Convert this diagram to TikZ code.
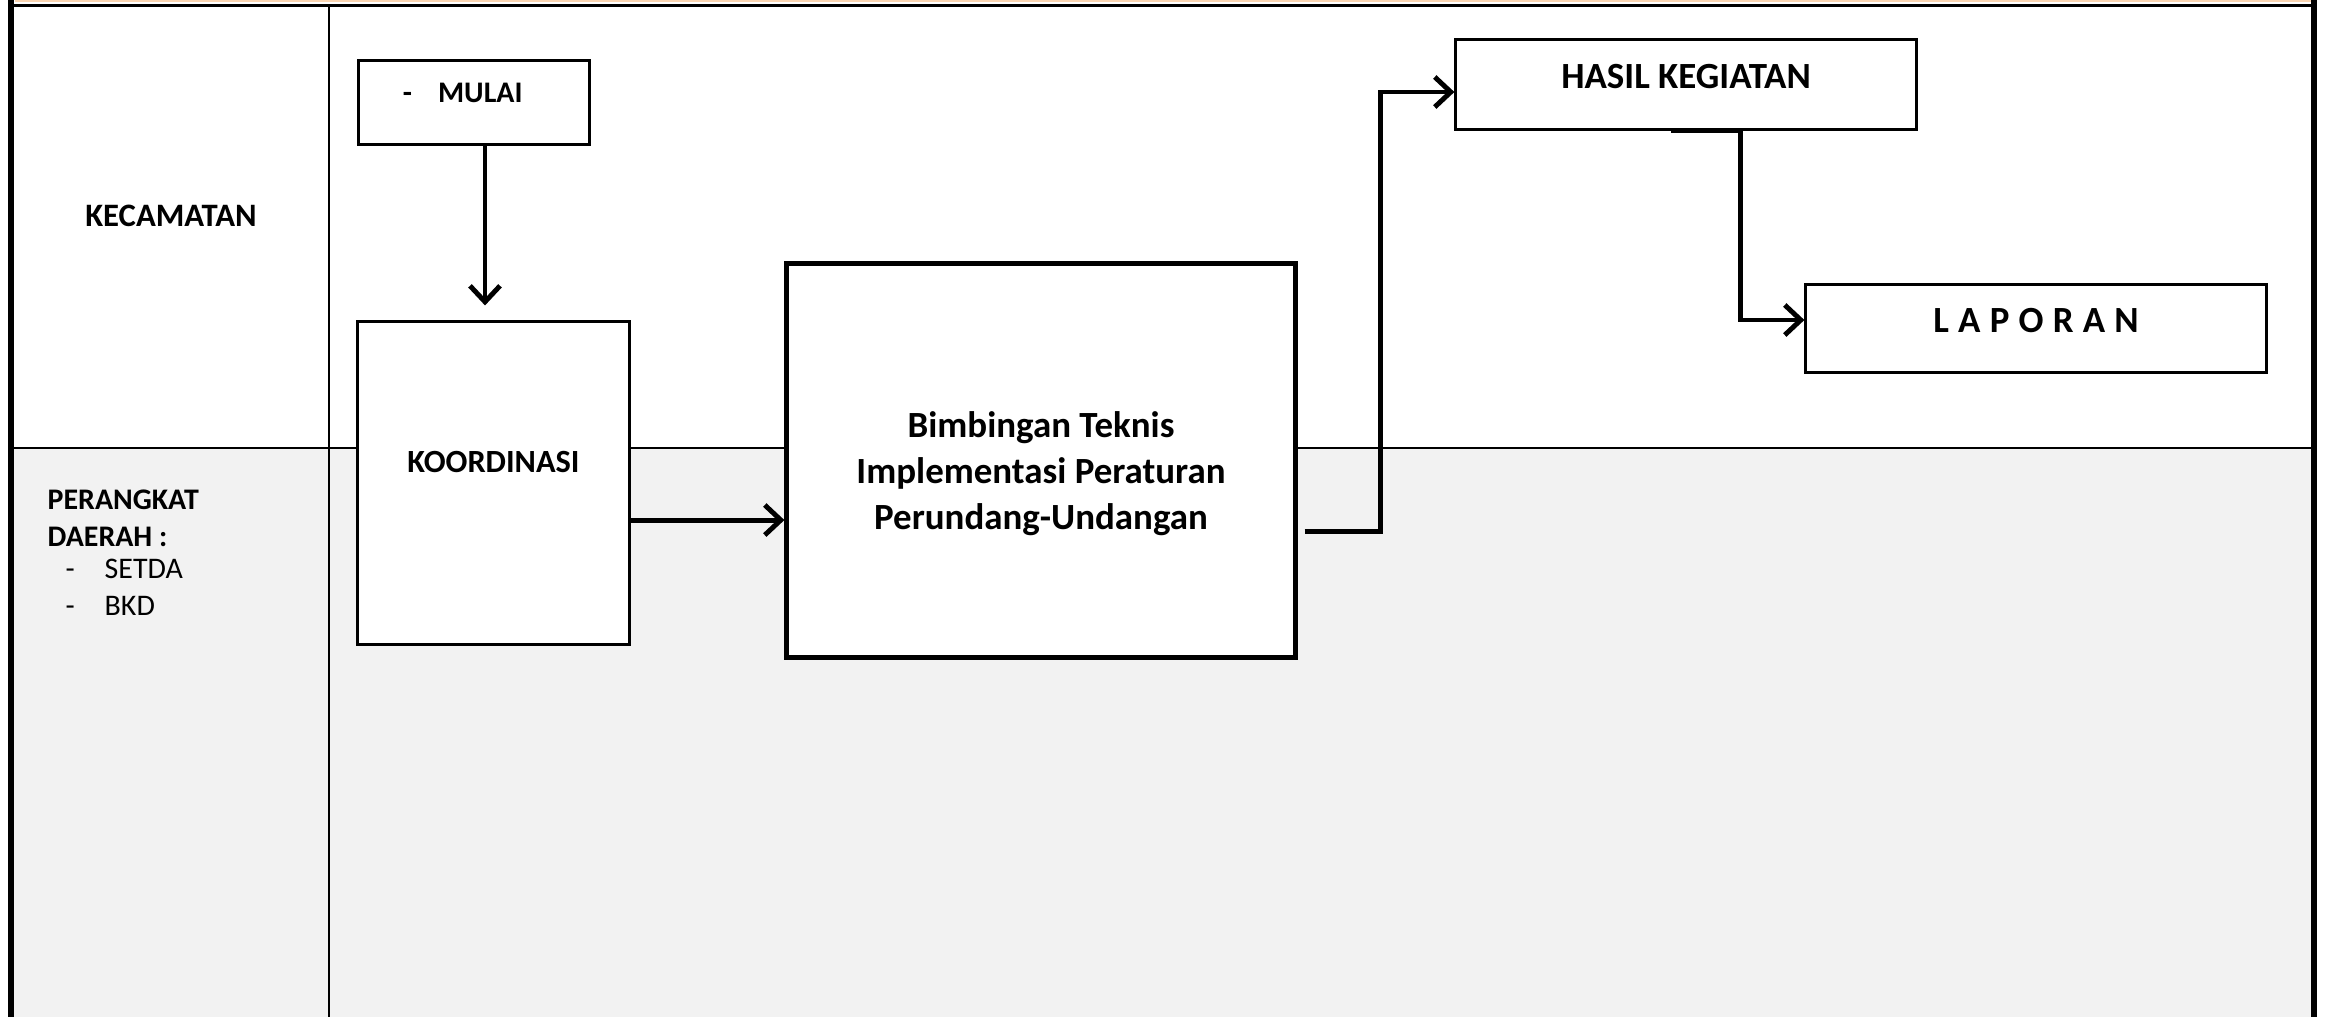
\documentclass[tikz,border=0pt]{standalone}
\usepackage{fontspec}
\setmainfont{Carlito}
\usetikzlibrary{arrows.meta}

\definecolor{peach}{RGB}{250,213,178}
\definecolor{lanegray}{RGB}{242,242,242}

\tikzset{
  box/.style={draw, fill=white, line width=0.85pt, inner sep=0pt},
  arr/.style={line width=1.4pt, -{Straight Barb[length=0.16cm,width=0.3cm]}},
  grid/.style={line width=0.6pt},
  small/.style={font=\fontsize{8.5}{10.5}\selectfont},
  big/.style={font=\bfseries\fontsize{10.5}{13}\selectfont},
}

\begin{document}
\begin{tikzpicture}[x=0.01cm, y=-0.01cm]
  \useasboundingbox (0,0) rectangle (2325,1017);

  % lanes and frame
  \fill[lanegray] (14,448) rectangle (2311,1017);
  \fill[peach] (15,0) rectangle (2311,2);
  \draw[line width=0.7pt] (14,5.5) -- (2311,5.5);
  \draw[line width=1.7pt] (11,0) -- (11,1017);
  \draw[line width=1.7pt] (2314,0) -- (2314,1017);
  \draw[grid] (329,5.5) -- (329,1017);
  \draw[grid] (14,448) -- (2311,448);

  % lane labels
  \node[font=\bfseries\fontsize{9.3}{11}\selectfont] (kec) at (171,216) {KECAMATAN};
  \node[small, anchor=north west, align=left, inner sep=0pt] (pd) at (47,489)
    {\textbf{PERANGKAT}\\ \textbf{DAERAH :}\\[-0.045cm]
     \hspace*{0.18cm}\makebox[0.39cm][l]{-}SETDA\\
     \hspace*{0.18cm}\makebox[0.39cm][l]{-}BKD};

  % boxes
  \node[box, font=\bfseries\fontsize{8.5}{10.5}\selectfont, text width=2.3cm, align=left,
        text height=0.415cm, text depth=0.415cm] (mulai) at (474,102.5)
    {\hspace*{0.44cm}-\hspace{0.26cm}MULAI};
  \node[box, font=\bfseries\fontsize{9.2}{11}\selectfont, text width=2.71cm, align=center,
        text height=1.505cm, text depth=1.715cm] (koord) at (493.5,483) {KOORDINASI};
  \node[box, big, line width=1.4pt, minimum width=5.08cm, minimum height=3.93cm,
        align=center] (bim) at (1041,460.5)
    {\rule{0pt}{0.52cm}Bimbingan Teknis\\ Implementasi Peraturan\\ Perundang-Undangan};
  \node[box, big, minimum width=4.6cm, text height=0.48cm, text depth=0.41cm] (hasil)
    at (1686,84.5) {HASIL KEGIATAN};
  \node[box, big, minimum width=4.6cm, text height=0.47cm, text depth=0.40cm] (lap)
    at (2036,328.5) {\spaceskip=0.25em L A P O R A N};

  % connectors
  \coordinate (m1) at ([xshift=0.11cm]mulai.south);
  \draw[arr, shorten >=0.15cm] (m1) -- (m1 |- koord.north);

  \coordinate (k1) at ([yshift=-0.37cm]koord.east);
  \draw[arr] (k1) -- (k1 -| bim.west);

  \coordinate (b1) at ([xshift=0.07cm,yshift=-0.705cm]bim.east);
  \draw[arr] (b1) -- ++(76,0) |- ([yshift=-0.075cm]hasil.west);

  \draw[arr] ([xshift=-0.15cm]hasil.south) -- ([xshift=0.54cm]hasil.south)
    |- ([yshift=0.085cm]lap.west);
\end{tikzpicture}
\end{document}
